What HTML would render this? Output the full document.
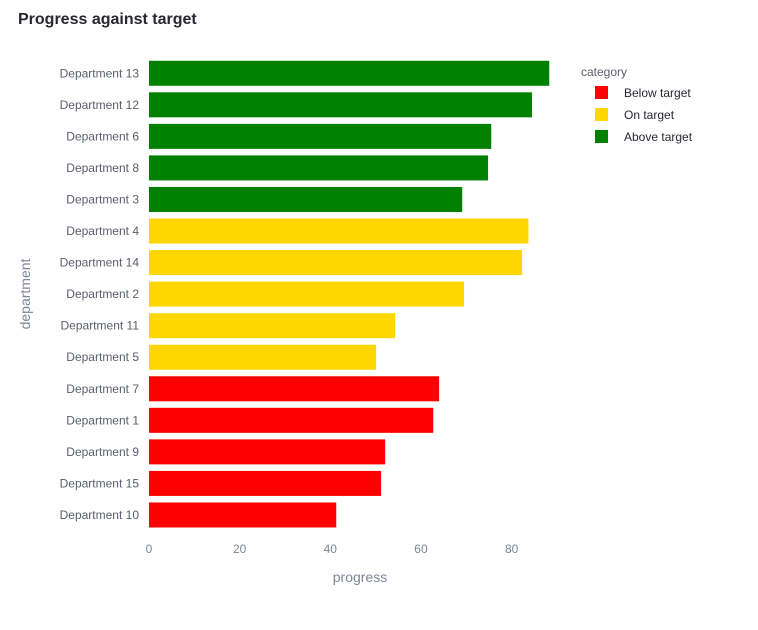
<!DOCTYPE html>
<html><head><meta charset="utf-8">
<style>
body{margin:0;background:#fff;font-family:"Liberation Sans",sans-serif;}
svg text{font-family:"Liberation Sans",sans-serif;}
</style></head>
<body>
<svg id="chart" width="758" height="625">
<text x="18" y="24" font-size="16" font-weight="bold" fill="#262730">Progress against target</text>
<g id="bars"></g>
<g id="yticks"></g>
<g id="xticks"></g>
<text x="360" y="582" font-size="14" fill="#808495" text-anchor="middle">progress</text>
<text x="30" y="294" font-size="14" fill="#808495" text-anchor="middle" transform="rotate(-90 30 294)">department</text>
<g id="legend"></g>
</svg>
<script>
const departments=["Department 13","Department 12","Department 6","Department 8","Department 3","Department 4","Department 14","Department 2","Department 11","Department 5","Department 7","Department 1","Department 9","Department 15","Department 10"];
const progress=[88.3,84.5,75.5,74.8,69.1,83.7,82.3,69.5,54.3,50.1,64,62.7,52.1,51.2,41.3];
const categories=["Above target","Above target","Above target","Above target","Above target","On target","On target","On target","On target","On target","Below target","Below target","Below target","Below target","Below target"];
const xTicks=[0,20,40,60,80];
const legendLabels=["Below target","On target","Above target"];
const colors={"Below target":"#ff0000","On target":"#ffd700","Above target":"#008000"};
const NS="http://www.w3.org/2000/svg";
const x0=149,pxPer=4.533,top0=57.5,step=31.55,bh=25;
const xs=v=>x0+v*pxPer;
const yc=i=>top0+step*i+step/2;
const bars=document.getElementById('bars');
departments.forEach((d,i)=>{
 const r=document.createElementNS(NS,'rect');
 r.setAttribute('x',xs(0));r.setAttribute('y',yc(i)-bh/2);
 r.setAttribute('width',xs(progress[i])-xs(0));r.setAttribute('height',bh);
 r.setAttribute('fill',colors[categories[i]]);
 
 
 bars.appendChild(r);
 const t=document.createElementNS(NS,'text');
 t.setAttribute('x',139);t.setAttribute('y',yc(i)+4);t.setAttribute('text-anchor','end');
 t.setAttribute('font-size','12');t.setAttribute('fill','#5a5e6b');t.textContent=d;
 
 
 document.getElementById('yticks').appendChild(t);
});
xTicks.forEach(v=>{
 const t=document.createElementNS(NS,'text');
 t.setAttribute('x',xs(v));t.setAttribute('y',553);t.setAttribute('text-anchor','middle');
 t.setAttribute('font-size','12');t.setAttribute('fill','#808495');t.textContent=v;
 
 
 document.getElementById('xticks').appendChild(t);
});
const lg=document.getElementById('legend');
const lt=document.createElementNS(NS,'text');
lt.setAttribute('x',581);lt.setAttribute('y',76);lt.setAttribute('font-size','12');lt.setAttribute('fill','#5a5e6b');lt.textContent='category';


lg.appendChild(lt);
legendLabels.forEach((l,i)=>{
 const y=93+i*22;
 const r=document.createElementNS(NS,'rect');
 r.setAttribute('x',595);r.setAttribute('y',y-7);r.setAttribute('width',13);r.setAttribute('height',13);r.setAttribute('fill',colors[l]);
 
 
 lg.appendChild(r);
 const t=document.createElementNS(NS,'text');
 t.setAttribute('x',624);t.setAttribute('y',y+4);t.setAttribute('font-size','12');t.setAttribute('fill','#262730');t.textContent=l;
 
 
 lg.appendChild(t);
});
</script>
</body></html>
